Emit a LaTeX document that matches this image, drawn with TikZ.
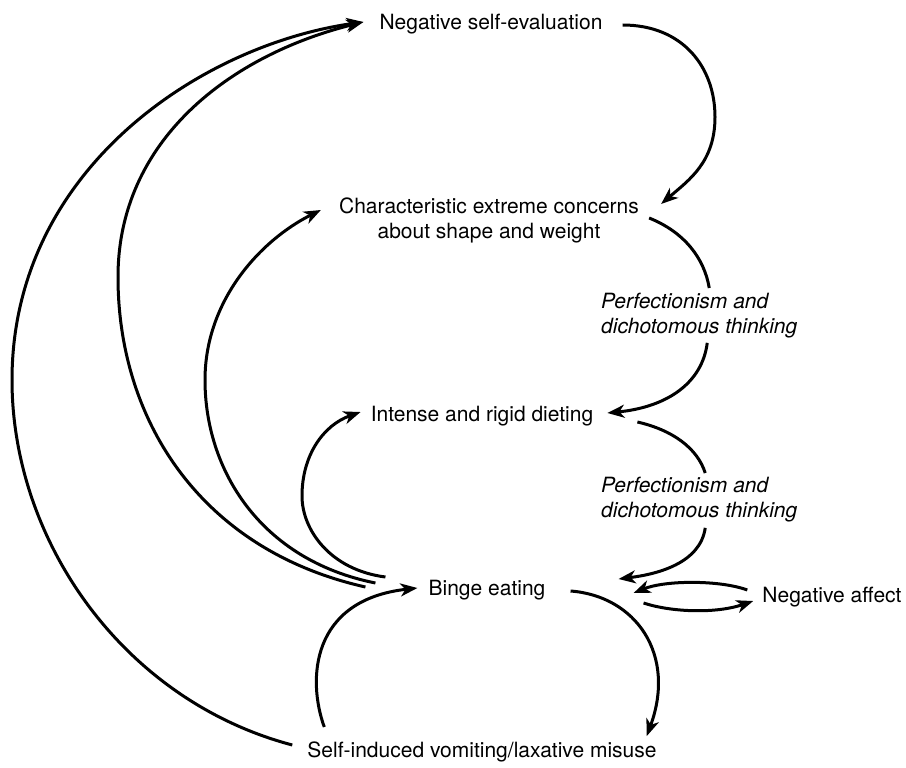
\documentclass[tikz,border=0pt]{standalone}
\usepackage{fontspec}
\setmainfont{TeX Gyre Heros}
\usetikzlibrary{arrows.meta,calc}
\begin{document}
\begin{tikzpicture}[x=1pt,y=-1pt,
  every node/.style={inner sep=0pt, font=\fontsize{21}{24.5}\selectfont},
  label/.style={anchor=base},
  note/.style={anchor=north west, align=left, font=\fontsize{21}{24.5}\selectfont\itshape},
  link/.style={line width=3pt, -{Stealth[length=17pt,width=13pt,inset=5pt]}},
  piece/.style={line width=3pt}]
\fill[white] (0,0) rectangle (906,768);

% states of the maintenance cycle
\node[label] (nse) at (491,30) {Negative self-evaluation};
\node[anchor=north, align=center] (chr) at (489,198) {Characteristic extreme concerns\\about shape and weight};
\node[label] (int) at (482,421) {Intense and rigid dieting};
\node[label] (bin) at (487,595) {Binge eating};
\node[label] (naf) at (832,602) {Negative affect};
\node[label] (sel) at (482,757) {Self-induced vomiting/laxative misuse};

% mediating factors
\node[note] (per1) at (601,293) {Perfectionism and\\dichotomous thinking};
\node[note] (per2) at (601,477) {Perfectionism and\\dichotomous thinking};

% right-hand chain
\draw[link] ($(nse.base east)+(20,-5)$) .. controls +(60,0) and +(0,-50) .. (715,117)
  .. controls +(0,45) and +(28,-24) .. ($(chr.north east)+(22,6)$);
\draw[piece] ($(chr.north east)+(10,20)$) .. controls +(35,14) and +(-5,-30) .. ($(per1.north)+(10,-5)$);
\draw[link] ($(per1.south)+(8,5)$) .. controls +(-5,40) and +(60,-6) .. ($(int.base east)+(14,-8)$);
\draw[piece] ($(int.base east)+(44,1)$) .. controls +(35,8) and +(-8,-25) .. ($(per2.north)+(6,-4)$);
\draw[link] ($(per2.south)+(6,6)$) .. controls +(-5,35) and +(40,-5) .. ($(bin.base east)+(73,-16)$);

% binge eating and negative affect
\draw[link] ($(naf.base west)+(-15,-12)$) .. controls +(-27,-10) and +(32,-13) .. ($(bin.base east)+(88,-2)$);
\draw[link] ($(bin.base east)+(98,8)$) .. controls +(27,9) and +(-38,13) .. ($(naf.base west)+(-9,-1)$);

% binge eating and compensatory behaviour
\draw[link] ($(bin.base east)+(25,-4)$) .. controls +(65,5) and +(30,-82) .. ($(sel.north east)+(-10,-5)$);
\draw[link] ($(sel.base west)+(17,-30)$) .. controls +(-17,-47) and +(-107,12) .. ($(bin.base west)+(-11,-7)$);

% left-hand feedback arcs
\draw[link] ($(sel.base west)+(-15,-12)$) .. controls +(-170,-45) and +(0,160) .. (12,380)
  .. controls +(0,-210) and +(-163,23) .. ($(nse.base west)+(-16,-8)$);
\draw[link] ($(bin.base west)+(-63,-8)$) .. controls +(-165,-37) and +(0,143) .. (118,277)
  .. controls +(0,-137) and +(-133,33) .. ($(nse.base west)+(-16,-8)$);
\draw[link] ($(bin.base west)+(-53,-12)$) .. controls +(-115,-23) and +(0,90) .. (205,380)
  .. controls +(0,-80) and +(-60,30) .. ($(chr.north west)+(-18,12)$);
\draw[link] ($(bin.base west)+(-43,-18)$) .. controls +(-55,-7) and +(0,34) .. (302,496)
  .. controls +(0,-41) and +(-37,13) .. ($(int.base west)+(-10,-9)$);
\end{tikzpicture}
\end{document}
